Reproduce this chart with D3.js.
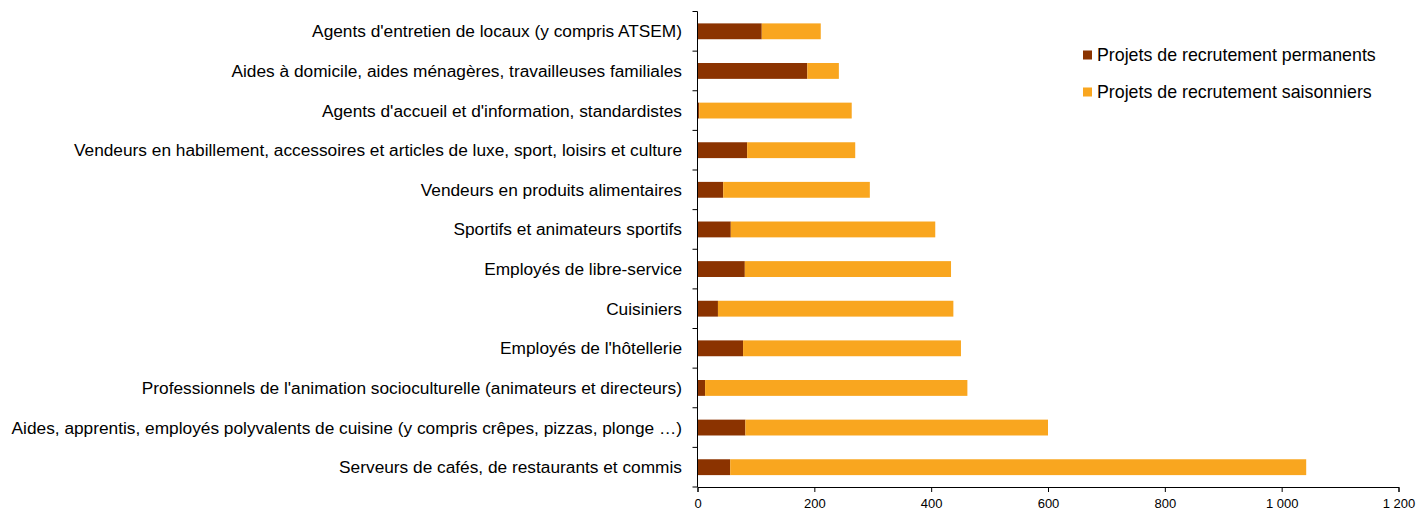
<!DOCTYPE html>
<html><head><meta charset="utf-8">
<script src="https://cdn.jsdelivr.net/npm/d3@7"></script>
<style>body{margin:0;background:#fff;}svg{display:block;font-family:"Liberation Sans",Arial,sans-serif;}</style>
</head><body><svg id="c" width="1419" height="510"></svg>
<script>
const categories = [
  "Agents d'entretien de locaux (y compris ATSEM)",
  "Aides à domicile, aides ménagères, travailleuses familiales",
  "Agents d'accueil et d'information, standardistes",
  "Vendeurs en habillement, accessoires et articles de luxe, sport, loisirs et culture",
  "Vendeurs en produits alimentaires",
  "Sportifs et animateurs sportifs",
  "Employés de libre-service",
  "Cuisiniers",
  "Employés de l'hôtellerie",
  "Professionnels de l'animation socioculturelle (animateurs et directeurs)",
  "Aides, apprentis, employés polyvalents de cuisine (y compris crêpes, pizzas, plonge …)",
  "Serveurs de cafés, de restaurants et commis"
];
const permanents = [110, 188, 3, 85, 44, 57, 81, 35, 78, 13, 82, 56];
const saisonniers = [101, 54, 261, 185, 251, 350, 353, 403, 373, 449, 518, 986];
const seriesNames = ["Projets de recrutement permanents", "Projets de recrutement saisonniers"];
const colors = ["#8B3300", "#F9A61F"];
const xTicks = [0, 200, 400, 600, 800, 1000, 1200];
const tickLabels = ["0", "200", "400", "600", "800", "1 000", "1 200"];

const svg = d3.select("#c");
const x = d3.scaleLinear().domain([0, 1200]).range([697.5, 1398.5]);
const y = d3.scaleBand().domain(categories).range([11.5, 487]).paddingInner(0.6).paddingOuter(0.3);

const data = categories.map((c, i) => ({cat: c, p: permanents[i], s: saisonniers[i]}));

const g = svg.append("g");
g.selectAll(".bp").data(data).join("rect")
  .attr("x", x(0)).attr("y", d => y(d.cat)).attr("height", y.bandwidth())
  .attr("width", d => x(d.p) - x(0)).attr("fill", colors[0]);
g.selectAll(".bs").data(data).join("rect")
  .attr("x", d => x(d.p)).attr("y", d => y(d.cat)).attr("height", y.bandwidth())
  .attr("width", d => x(d.p + d.s) - x(d.p)).attr("fill", colors[1]);

const yTop = 11.5, yBot = 487;
svg.append("line").attr("x1", x(0)).attr("x2", x(0)).attr("y1", yTop).attr("y2", yBot).attr("stroke", "#000");
d3.range(categories.length + 1).forEach(i => {
  const yy = yTop + i * (yBot - yTop) / categories.length;
  svg.append("line").attr("x1", x(0) - 5).attr("x2", x(0)).attr("y1", yy).attr("y2", yy).attr("stroke", "#000");
});
svg.selectAll(".cl").data(categories).join("text")
  .attr("x", 682).attr("y", d => y(d) + y.bandwidth() / 2).attr("dy", "0.35em")
  .attr("text-anchor", "end").attr("font-size", 17.3).attr("fill", "#000").text(d => d);

const xa = svg.append("g").attr("transform", `translate(0,${yBot})`)
  .call(d3.axisBottom(x).tickValues(xTicks).tickSize(5).tickFormat((d, i) => tickLabels[i]));
xa.select(".domain").attr("stroke", "#000");
xa.selectAll(".tick line").attr("stroke", "#000");
xa.selectAll("text").attr("font-size", 13).attr("fill", "#000").attr("font-family", "Liberation Sans, Arial, sans-serif").attr("dy", "0.98em");

const lg = svg.append("g");
seriesNames.forEach((n, i) => {
  const yy = 55 + i * 37;
  lg.append("rect").attr("x", 1083).attr("y", yy - 4.5).attr("width", 9).attr("height", 9).attr("fill", colors[i]);
  lg.append("text").attr("x", 1097).attr("y", yy).attr("dy", "0.35em").attr("font-size", 17.8).attr("fill", "#000").text(n);
});
</script></body></html>
